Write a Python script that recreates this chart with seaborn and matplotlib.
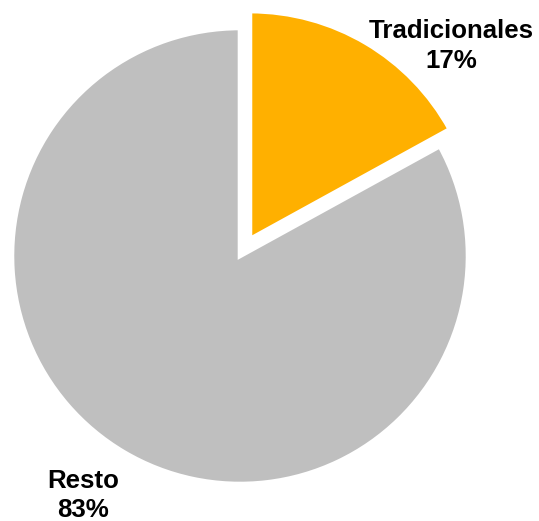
import matplotlib
matplotlib.use("Agg")
import matplotlib.pyplot as plt
import seaborn as sns

# Share of the segment
categories = ["Tradicionales", "Resto"]
shares = [17, 83]
colors = ["#FFB000", "#BFBFBF"]
explode = [0.086, 0.0]

sns.set_theme(style="white")
plt.rcParams["font.family"] = ["Liberation Sans", "DejaVu Sans"]

fig = plt.figure(figsize=(5.39, 5.21), dpi=100)
ax = fig.add_axes([0, 0, 1, 1])

wedges, _ = ax.pie(
    shares,
    colors=colors,
    explode=explode,
    startangle=90,
    counterclock=False,
    wedgeprops=dict(edgecolor="white", linewidth=3.3),
)

ax.set_xlim(-1.0526, 1.3114)
ax.set_ylim(-1.1623, 1.1228)
ax.set_aspect("auto")
ax.axis("off")

label_pos = [(0.925, 0.921), (-0.689, -1.05)]
for name, val, (x, y) in zip(categories, shares, label_pos):
    ax.text(x, y, f"{name}\n{val}%", ha="center", va="center",
            fontsize=18.6, fontweight="bold", color="black", linespacing=1.3)

fig.savefig("out.png", dpi=100)
